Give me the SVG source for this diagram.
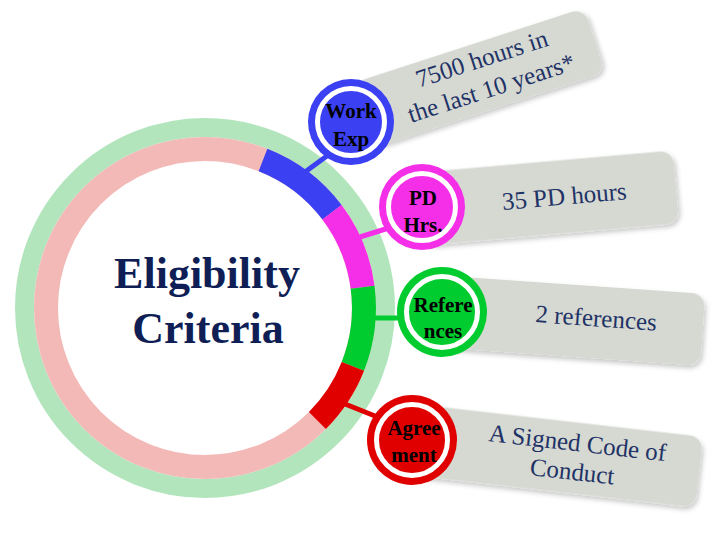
<svg xmlns="http://www.w3.org/2000/svg" width="728" height="538" viewBox="0 0 728 538">
<defs>
<style>
.box{fill:#d6d9d2;filter:url(#sh)}
.ctext{font-family:"Liberation Serif",serif;font-size:25px;fill:#1f3366;text-anchor:middle}
.lbl{font-family:"Liberation Serif",serif;font-size:21px;font-weight:bold;fill:#000;text-anchor:middle}
.title{font-family:"Liberation Serif",serif;font-size:44px;font-weight:bold;fill:#0f1f56;text-anchor:middle}
.inner{fill:none;stroke:#fff;stroke-width:5}
.seg{fill:none;stroke-width:24;stroke-linecap:butt}
.conn{fill:none;stroke-width:5}
</style>
<filter id="sh" x="-10%" y="-20%" width="125%" height="160%">
<feDropShadow dx="2" dy="3" stdDeviation="2.5" flood-color="#000" flood-opacity="0.22"/>
</filter>
</defs>
<rect width="728" height="538" fill="#fff"/>
<g id="center">
<circle cx="205" cy="308" r="180.5" fill="none" stroke="#b3e5bd" stroke-width="19"/>
<circle cx="205" cy="308" r="159" fill="none" stroke="#f2b9b7" stroke-width="24"/>
<path class="seg" stroke="#3b40f3" d="M263,160 A159,159 0 0 1 332,212.3"/>
<path class="seg" stroke="#f52fe8" d="M332,212.3 A159,159 0 0 1 362.6,287.3"/>
<path class="seg" stroke="#00cc2f" d="M362.6,287.3 A159,159 0 0 1 352.9,366.3"/>
<path class="seg" stroke="#e00000" d="M352.9,366.3 A159,159 0 0 1 317.4,420.4"/>
<text class="title" x="207" y="288">Eligibility</text>
<text class="title" x="208" y="343">Criteria</text>
</g>
<g id="connectors">
<line class="conn" stroke="#3b40f3" x1="305" y1="172" x2="335" y2="150"/>
<line class="conn" stroke="#f52fe8" x1="360" y1="237" x2="395" y2="226"/>
<line class="conn" stroke="#00cc2f" x1="374" y1="318" x2="405" y2="318"/>
<line class="conn" stroke="#e00000" x1="345" y1="404" x2="385" y2="420"/>
</g>
<g id="node-work-exp">
<g transform="rotate(-18)">
<rect class="box" x="310" y="188" width="243" height="68" rx="13"/>
<text class="ctext" x="440" y="213">7500 hours in</text>
<text class="ctext" x="440" y="244">the last 10 years*</text>
</g>
<circle cx="351" cy="122" r="43" fill="#3b40f3"/>
<circle class="inner" cx="351" cy="122" r="33.5"/>
<text class="lbl" x="351" y="118">Work</text>
<text class="lbl" x="351" y="146">Exp</text>
</g>
<g id="node-pd-hrs">
<g transform="rotate(-5)">
<rect class="box" x="400" y="208.5" width="257" height="73" rx="13"/>
<text class="ctext" x="545" y="253">35 PD hours</text>
</g>
<circle cx="422" cy="207" r="43" fill="#f52fe8"/>
<circle class="inner" cx="422" cy="207" r="33.5"/>
<text class="lbl" x="423" y="205">PD</text>
<text class="lbl" x="423" y="232">Hrs.</text>
</g>
<g id="node-references">
<g transform="rotate(4)">
<rect class="box" x="440" y="244" width="284" height="72" rx="13"/>
<text class="ctext" x="617" y="284">2 references</text>
</g>
<circle cx="442" cy="312" r="45" fill="#00cc2f"/>
<circle class="inner" cx="442" cy="312" r="35.5"/>
<text class="lbl" x="443" y="312">Refere</text>
<text class="lbl" x="443" y="338">nces</text>
</g>
<g id="node-agreement">
<g transform="rotate(6.5)">
<rect class="box" x="440" y="354.5" width="308" height="71" rx="13"/>
<text class="ctext" x="624" y="383">A Signed Code of</text>
<text class="ctext" x="622" y="412">Conduct</text>
</g>
<circle cx="412" cy="440" r="45" fill="#e00000"/>
<circle class="inner" cx="412" cy="440" r="35.5"/>
<text class="lbl" x="414" y="435">Agree</text>
<text class="lbl" x="414" y="462">ment</text>
</g>
</svg>
